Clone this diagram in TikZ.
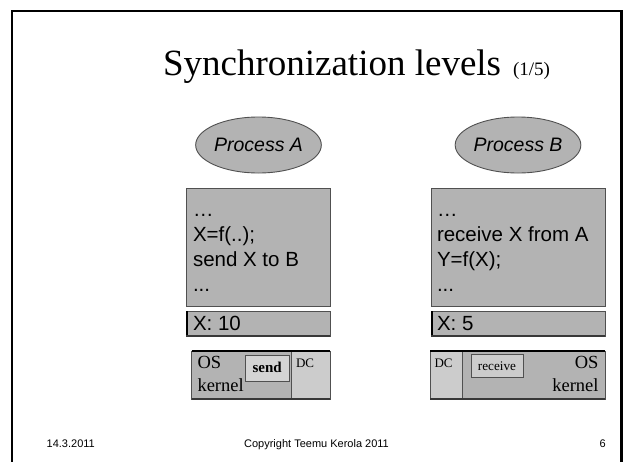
\documentclass[tikz,border=0pt]{standalone}
\usepackage{fontspec}
\setmainfont{Liberation Serif}
\newfontfamily\arialf{Liberation Sans}
\usetikzlibrary{shapes.geometric}
\definecolor{boxgray}{HTML}{B3B3B3}
\definecolor{dcgray}{HTML}{CCCCCC}
\definecolor{sendgray}{HTML}{D4D4D4}
\definecolor{edgegray}{HTML}{505050}
\newcommand\fsz[1]{\fontsize{#1}{#1}\selectfont}
\begin{document}
\begin{tikzpicture}[x=1pt,y=-1pt,
  txt/.style={inner sep=0pt, outer sep=0pt},
  code/.style={txt, anchor=base west, font=\arialf\fsz{20.5}},
  ostxt/.style={txt, font=\fsz{18.5}},
  dctxt/.style={txt, anchor=base west, font=\fsz{13}},
  foot/.style={txt, font=\arialf\fsz{11}},
  proc/.style={ellipse, draw=edgegray, fill=boxgray, line width=0.9pt,
    minimum width=103pt, minimum height=56pt, inner sep=0pt,
    font=\arialf\itshape\fsz{19.5}},
  panel/.style={draw=edgegray, fill=boxgray, line width=0.8pt},
  topedge/.style={line width=1.6pt, black},
  botedge/.style={line width=1.3pt, edgegray!70!black},
  smallbox/.style={draw=edgegray, line width=1pt}
]
\useasboundingbox (0,0) rectangle (623,461);
\fill[white] (0,0) rectangle (623,461);
% frame
\draw[line width=2.5pt] (12,462) -- (12,11.2) -- (621.6,11.2) -- (621.6,462);

% title
\node[txt, anchor=base west, font=\fsz{37}] (title) at (163,75) {Synchronization levels};
\node[txt, anchor=base west, font=\fsz{19}] (titlenum) at (513,75) {(1/5)};

% processes
\node[proc] (procA) at (258.5,145) {Process A};
\node[proc] (procB) at (518,145) {Process B};

% code boxes
\draw[panel] (186,188) rectangle (330,306);
\draw[panel] (431,188) rectangle (605,306);
\node[code] (a1) at (193,216) {…};
\node[code] (a2) at (193,241) {X=f(..);};
\node[code] (a3) at (193,266) {send X to B};
\node[code] (a4) at (193,291) {...};
\node[code] (b1) at (437,216) {…};
\node[code] (b2) at (437,241) {receive X from A};
\node[code] (b3) at (437,266) {Y=f(X);};
\node[code] (b4) at (437,291) {...};

% X boxes
\draw[panel] (186,311) rectangle (330,336);
\draw[topedge] (186.8,311) -- (186.8,336);
\draw[botedge] (186,336) -- (330,336);
\node[code] (xa) at (193,330.5) {X: 10};
\draw[panel] (431,311) rectangle (605,336);
\draw[topedge] (431.8,311) -- (431.8,336);
\draw[botedge] (431,336) -- (605,336);
\node[code] (xb) at (437,330.5) {X: 5};

% OS kernel A
\fill[boxgray] (191.5,351) rectangle (291,399);
\fill[dcgray] (291,351) rectangle (330,399);
\draw[edgegray, line width=0.8pt] (191.5,351) rectangle (330,399);
\draw[edgegray, line width=0.9pt] (291,351) -- (291,399);
\draw[topedge] (191.5,351) -- (330,351);
\draw[botedge] (191.5,399) -- (330,399);
\draw[smallbox, fill=sendgray] (245.5,355) rectangle (289,381);
\node[txt, font=\bfseries\fsz{15}, anchor=base] (sendA) at (267.2,372.5) {send};
\node[ostxt, anchor=base west] (osA) at (197.5,368.3) {OS};
\node[ostxt, anchor=base west] (kernA) at (197.5,391.7) {kernel};
\node[dctxt] (dcA) at (296,367) {DC};

% OS kernel B
\fill[dcgray] (430,351) rectangle (462,399);
\fill[boxgray] (462,351) rectangle (605,399);
\draw[edgegray, line width=0.8pt] (430,351) rectangle (605,399);
\draw[edgegray, line width=0.9pt] (462,351) -- (462,399);
\draw[topedge] (430,351) -- (605,351);
\draw[botedge] (430,399) -- (605,399);
\draw[smallbox, fill=dcgray] (471,354) rectangle (523,377);
\node[txt, font=\fsz{13.2}, anchor=base] (recvB) at (497,370) {receive};
\node[ostxt, anchor=base east] (osB) at (598.5,368.3) {OS};
\node[ostxt, anchor=base east] (kernB) at (598.5,391.7) {kernel};
\node[dctxt] (dcB) at (434.5,367) {DC};

% footer
\node[foot, anchor=base west] (date) at (46.7,447) {14.3.2011};
\node[foot, anchor=base] (copy) at (316.5,447) {Copyright Teemu Kerola 2011};
\node[foot, anchor=base east] (page) at (605.7,447) {6};
\end{tikzpicture}
\end{document}
